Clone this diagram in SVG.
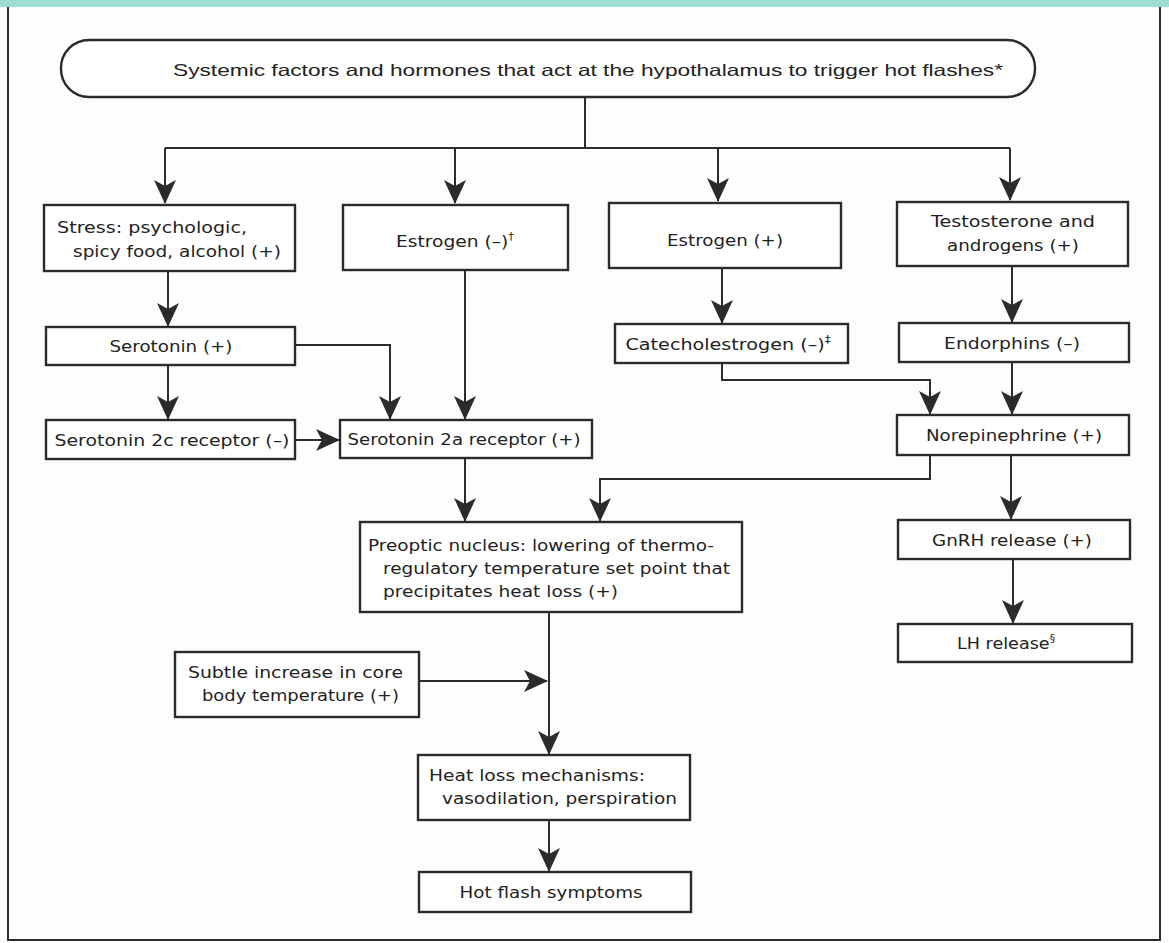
<svg xmlns="http://www.w3.org/2000/svg" width="1169" height="943" viewBox="0 0 1169 943">
<defs>
<marker id="ah" markerUnits="userSpaceOnUse" markerWidth="24" markerHeight="24" viewBox="0 0 24 24" refX="23" refY="12" orient="auto">
<path d="M0,1 L24,12 L0,23 L6,12 z" fill="#2b2b2b"/>
</marker>
</defs>
<style>
.box{fill:#fff;stroke:#2b2b2b;stroke-width:2.4}
.t{font-family:"DejaVu Sans","Liberation Sans",Arial,sans-serif;font-size:16.5px;fill:#222}
.c{text-anchor:middle}
.ln{fill:none;stroke:#2b2b2b;stroke-width:2}
</style>
<rect width="1169" height="943" fill="#fdfdfd"/>
<rect x="0" y="0" width="1169" height="7" fill="#9fdcd6"/>
<g id="frame" fill="none" stroke="#2b2b2b" stroke-width="2">
<path d="M8,7 V940 H1160 V7"/>
</g>
<g id="connectors">
<path class="ln" d="M585,97 V148"/>
<path class="ln" d="M165,148 H1010"/>
<path class="ln" d="M165,148 V203" marker-end="url(#ah)"/>
<path class="ln" d="M455,148 V203" marker-end="url(#ah)"/>
<path class="ln" d="M718,148 V201" marker-end="url(#ah)"/>
<path class="ln" d="M1010,148 V200" marker-end="url(#ah)"/>
<path class="ln" d="M168,271 V326" marker-end="url(#ah)"/>
<path class="ln" d="M168,365 V419" marker-end="url(#ah)"/>
<path class="ln" d="M295,345 H390 V419" marker-end="url(#ah)"/>
<path class="ln" d="M465,270 V419" marker-end="url(#ah)"/>
<path class="ln" d="M295,440 H339" marker-end="url(#ah)"/>
<path class="ln" d="M722,268 V323" marker-end="url(#ah)"/>
<path class="ln" d="M722,363 V380 H930 V414" marker-end="url(#ah)"/>
<path class="ln" d="M1012,266 V322" marker-end="url(#ah)"/>
<path class="ln" d="M1012,362 V414" marker-end="url(#ah)"/>
<path class="ln" d="M930,455 V479 H600 V521" marker-end="url(#ah)"/>
<path class="ln" d="M465,458 V521" marker-end="url(#ah)"/>
<path class="ln" d="M1011,455 V519" marker-end="url(#ah)"/>
<path class="ln" d="M1013,559 V623" marker-end="url(#ah)"/>
<path class="ln" d="M549,612 V754" marker-end="url(#ah)"/>
<path class="ln" d="M419,681 H547" marker-end="url(#ah)"/>
<path class="ln" d="M549,820 V871" marker-end="url(#ah)"/>
</g>
<g id="top">
<rect class="box" x="61" y="40" width="974" height="57" rx="28" ry="28" stroke-width="2.8"/>
<text class="t c" x="588" y="76" style="font-family:'Liberation Sans',Arial,sans-serif" font-size="19" textLength="830" lengthAdjust="spacingAndGlyphs">Systemic factors and hormones that act at the hypothalamus to trigger hot flashes*</text>
</g>
<g id="stress">
<rect class="box" x="44" y="205" width="251" height="66"/>
<text class="t" x="57" y="233" textLength="190" lengthAdjust="spacingAndGlyphs">Stress: psychologic,</text>
<text class="t" x="73" y="257" textLength="208" lengthAdjust="spacingAndGlyphs">spicy food, alcohol (+)</text>
</g>
<g id="estrogen-neg">
<rect class="box" x="343" y="205" width="225" height="65"/>
<text class="t c" x="455" y="247" textLength="118" lengthAdjust="spacingAndGlyphs">Estrogen (–)<tspan font-size="10" dy="-7">†</tspan></text>
</g>
<g id="estrogen-pos">
<rect class="box" x="609" y="203" width="232" height="65"/>
<text class="t c" x="725" y="246" textLength="116" lengthAdjust="spacingAndGlyphs">Estrogen (+)</text>
</g>
<g id="testosterone">
<rect class="box" x="897" y="202" width="231" height="64"/>
<text class="t c" x="1013" y="227" textLength="164" lengthAdjust="spacingAndGlyphs">Testosterone and</text>
<text class="t c" x="1013" y="251" textLength="132" lengthAdjust="spacingAndGlyphs">androgens (+)</text>
</g>
<g id="serotonin">
<rect class="box" x="46" y="327" width="249" height="38"/>
<text class="t c" x="171" y="352" textLength="123" lengthAdjust="spacingAndGlyphs">Serotonin (+)</text>
</g>
<g id="catecholestrogen">
<rect class="box" x="615" y="324" width="233" height="39"/>
<text class="t c" x="728" y="350" textLength="205" lengthAdjust="spacingAndGlyphs">Catecholestrogen (–)<tspan font-size="10" dy="-7">‡</tspan></text>
</g>
<g id="endorphins">
<rect class="box" x="899" y="323" width="230" height="39"/>
<text class="t c" x="1012" y="349" textLength="136" lengthAdjust="spacingAndGlyphs">Endorphins (–)</text>
</g>
<g id="ser2c">
<rect class="box" x="46" y="420" width="249" height="39"/>
<text class="t c" x="172" y="446" textLength="235" lengthAdjust="spacingAndGlyphs">Serotonin 2c receptor (–)</text>
</g>
<g id="ser2a">
<rect class="box" x="340" y="420" width="252" height="38"/>
<text class="t c" x="464" y="445" textLength="233" lengthAdjust="spacingAndGlyphs">Serotonin 2a receptor (+)</text>
</g>
<g id="norepinephrine">
<rect class="box" x="897" y="415" width="232" height="40"/>
<text class="t c" x="1014" y="441" textLength="176" lengthAdjust="spacingAndGlyphs">Norepinephrine (+)</text>
</g>
<g id="preoptic">
<rect class="box" x="360" y="522" width="382" height="90"/>
<text class="t" x="368" y="551" textLength="346" lengthAdjust="spacingAndGlyphs">Preoptic nucleus: lowering of thermo-</text>
<text class="t" x="383" y="574" textLength="347" lengthAdjust="spacingAndGlyphs">regulatory temperature set point that</text>
<text class="t" x="383" y="597" textLength="235" lengthAdjust="spacingAndGlyphs">precipitates heat loss (+)</text>
</g>
<g id="gnrh">
<rect class="box" x="898" y="520" width="232" height="39"/>
<text class="t c" x="1012" y="546" textLength="160" lengthAdjust="spacingAndGlyphs">GnRH release (+)</text>
</g>
<g id="lh">
<rect class="box" x="898" y="624" width="234" height="38"/>
<text class="t c" x="1006" y="649" textLength="98" lengthAdjust="spacingAndGlyphs">LH release<tspan font-size="10" dy="-7">§</tspan></text>
</g>
<g id="subtle">
<rect class="box" x="175" y="652" width="244" height="65"/>
<text class="t" x="188" y="678" textLength="215" lengthAdjust="spacingAndGlyphs">Subtle increase in core</text>
<text class="t" x="202" y="701" textLength="197" lengthAdjust="spacingAndGlyphs">body temperature (+)</text>
</g>
<g id="heatloss">
<rect class="box" x="418" y="755" width="272" height="65"/>
<text class="t" x="429" y="781" textLength="216" lengthAdjust="spacingAndGlyphs">Heat loss mechanisms:</text>
<text class="t" x="442" y="804" textLength="235" lengthAdjust="spacingAndGlyphs">vasodilation, perspiration</text>
</g>
<g id="hotflash">
<rect class="box" x="419" y="872" width="272" height="40"/>
<text class="t c" x="551" y="898" textLength="183" lengthAdjust="spacingAndGlyphs">Hot flash symptoms</text>
</g>
</svg>
